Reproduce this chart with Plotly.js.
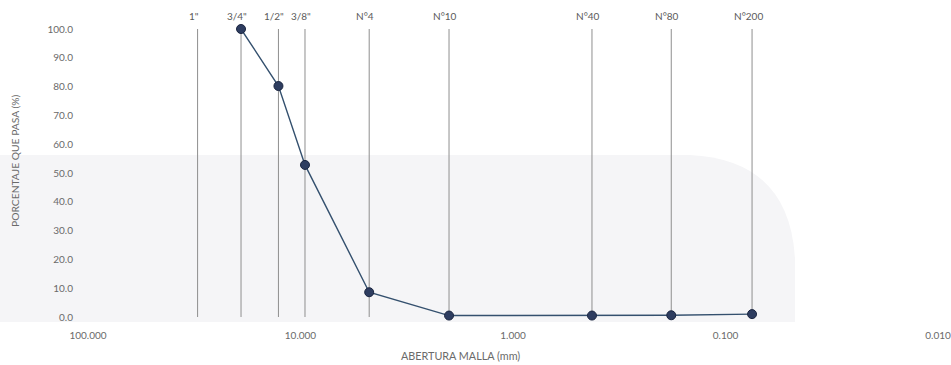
<!DOCTYPE html>
<html>
<head>
<meta charset="utf-8">
<script src="https://cdn.plot.ly/plotly-3.0.1.min.js"></script>
<style>html,body{margin:0;padding:0;background:#fff;}#chart{width:951px;height:365px;}</style>
</head>
<body>
<div id="chart"></div>
<script>
// Sieve names and apertures (mm)
const sieveNames = ['1"', '3/4"', '1/2"', '3/8"', 'N°4', 'N°10', 'N°40', 'N°80', 'N°200'];
const sieveOpenings = [30.5, 19.05, 12.7, 9.525, 4.75, 2.0, 0.425, 0.18, 0.075];

// Grading curve (percent passing)
const curveOpenings = [19.05, 12.7, 9.525, 4.75, 2.0, 0.425, 0.18, 0.075];
const percentPassing = [100.0, 80.2, 52.8, 8.6, 0.5, 0.5, 0.6, 1.0];

// Axis ticks
const xTickVals = [100, 10, 1, 0.1, 0.01];
const xTickText = ['100.000', '10.000', '1.000', '0.100', '0.010'];
const yTickVals = [0, 10, 20, 30, 40, 50, 60, 70, 80, 90, 100];
const yTickText = ['0.0', '10.0', '20.0', '30.0', '40.0', '50.0', '60.0', '70.0', '80.0', '90.0', '100.0'];

const FONT = 'Lato, "Liberation Sans", sans-serif';
const TXT = '#6a6a6a';

// sieve vertical lines built from the sieve arrays
const lx = [], ly = [];
sieveOpenings.forEach(v => { lx.push(v, v, null); ly.push(0, 100.4, null); });

const traces = [
  {
    x: lx, y: ly, mode: 'lines', type: 'scatter',
    line: {color: '#8f8f8f', width: 1},
    hoverinfo: 'skip', showlegend: false, cliponaxis: false
  },
  {
    x: curveOpenings, y: percentPassing, mode: 'lines+markers', type: 'scatter',
    line: {color: '#34506e', width: 1.4},
    marker: {size: 9, color: '#2e3d60', line: {color: '#1a2540', width: 1}},
    showlegend: false, cliponaxis: false
  }
];

const annotations = sieveNames.map((n, i) => ({
  x: Math.log10(sieveOpenings[i]), y: 1, xref: 'x', yref: 'paper',
  text: n, showarrow: false, yanchor: 'bottom', yshift: 5, xshift: -4,
  font: {family: FONT, size: 10, color: '#5a5a5a'}
}));
annotations.push({
  x: (460 - 88) / 850, y: 0, xref: 'paper', yref: 'paper', yanchor: 'middle',
  yshift: -38, text: 'ABERTURA MALLA (mm)', showarrow: false,
  font: {family: FONT, size: 10.8, color: TXT}
});
annotations.push({
  x: (15 - 88) / 850, y: (317 - 161) / 288, xref: 'paper', yref: 'paper', textangle: -90,
  text: 'PORCENTAJE QUE PASA (%)', showarrow: false, xanchor: 'center', yanchor: 'middle',
  font: {family: FONT, size: 10.3, color: TXT}
});

// helper: pixel -> paper coords
const px = p => ((p - 88) / 850).toFixed(4);
const py = p => ((317 - p) / 288).toFixed(4);
const bgPath = `M ${px(0)},${py(155)} L ${px(690)},${py(155)} Q ${px(790)},${py(160)} ${px(795)},${py(260)} L ${px(795)},${py(322)} L ${px(0)},${py(322)} Z`;

const layout = {
  width: 951, height: 365,
  margin: {l: 88, r: 13, t: 29, b: 48, pad: 0},
  paper_bgcolor: '#ffffff', plot_bgcolor: 'rgba(0,0,0,0)',
  showlegend: false,
  xaxis: {
    type: 'log', range: [2, -2], autorange: false,
    tickvals: xTickVals, ticktext: xTickText,
    showgrid: false, zeroline: false, showline: false,
    ticks: 'outside', ticklen: 9, tickcolor: 'rgba(0,0,0,0)',
    tickfont: {family: FONT, size: 10, color: TXT}, automargin: false
  },
  yaxis: {
    range: [0, 100], autorange: false,
    tickvals: yTickVals, ticktext: yTickText,
    showgrid: false, zeroline: false, showline: false,
    ticks: 'outside', ticklen: 12, tickcolor: 'rgba(0,0,0,0)',
    tickfont: {family: FONT, size: 10, color: TXT}, automargin: false
  },
  shapes: [{
    type: 'path', xref: 'paper', yref: 'paper', layer: 'below',
    path: bgPath, fillcolor: '#f5f5f7', line: {width: 0}
  }],
  annotations: annotations
};

Plotly.newPlot('chart', traces, layout, {staticPlot: true, displayModeBar: false});
</script>
</body>
</html>
